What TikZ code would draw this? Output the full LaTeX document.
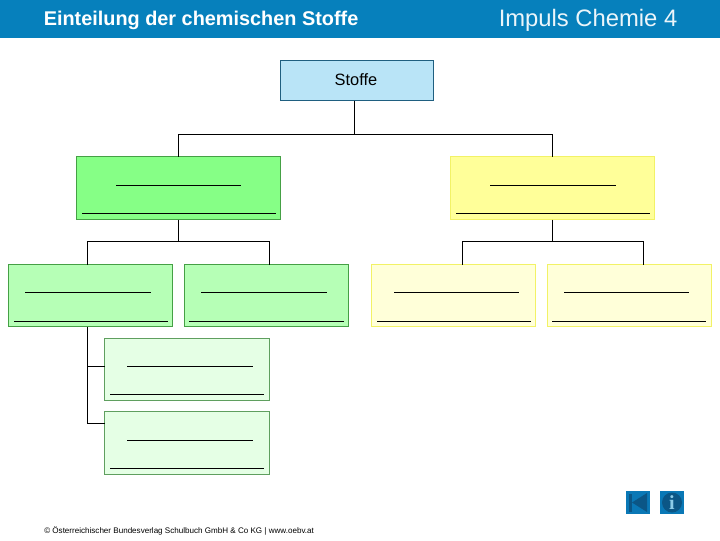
\documentclass[tikz,border=0pt]{standalone}
\usepackage{fontspec}
\setmainfont{Liberation Sans}
\newfontfamily\infofont{Liberation Serif}
\definecolor{banner}{HTML}{0680BC}
\definecolor{iconbg}{HTML}{0A78B6}
\definecolor{icondark}{HTML}{0B5686}
\definecolor{iconlight}{HTML}{8CCBE8}
\definecolor{rootfill}{HTML}{B9E4F7}
\definecolor{rootline}{HTML}{1F5F80}
\definecolor{greenline}{HTML}{45A045}
\definecolor{greenline2}{HTML}{5F9F5F}
\definecolor{green1}{HTML}{86FF86}
\definecolor{green2}{HTML}{B6FFB6}
\definecolor{green3}{HTML}{E5FFE5}
\definecolor{yellowline}{HTML}{F2F266}
\definecolor{yellow1}{HTML}{FFFF99}
\definecolor{yellow2}{HTML}{FFFFD9}
\tikzset{
  box/.style={draw,rectangle,outer sep=0pt,inner sep=0pt,line width=1pt},
  big/.style={box,minimum width=153pt,minimum height=47.25pt},
  small/.style={box,minimum width=123pt,minimum height=46.5pt},
  wide/.style={box,minimum width=123.75pt,minimum height=46.5pt},
  widetall/.style={box,minimum width=123.75pt,minimum height=47.25pt},
  root/.style={box,draw=rootline,fill=rootfill,minimum width=114.75pt,minimum height=30pt},
  ggreen/.style={draw=greenline,fill=green1},
  mgreen/.style={draw=greenline,fill=green2},
  lgreen/.style={draw=greenline2,fill=green3},
  gyellow/.style={draw=yellowline,fill=yellow1},
  lyellow/.style={draw=yellowline,fill=yellow2},
  conn/.style={draw=black,line width=0.9pt},
  blank/.style={draw=black,line width=0.9pt},
}
\begin{document}
\begin{tikzpicture}[x=0.75pt,y=-0.75pt]
\useasboundingbox (0,0) rectangle (720,540);
\fill[white] (0,0) rectangle (720,540);
\fill[banner] (0,0) rectangle (720,37.5);
\node[anchor=west,inner sep=0pt,text=white,font=\bfseries\fontsize{14.9pt}{18pt}\selectfont] (title) at (43.5,20.5) {Einteilung der chemischen Stoffe};
\node[anchor=west,inner sep=0pt,text=white!92!banner,font=\fontsize{17.85pt}{21pt}\selectfont] (brand) at (498.5,20) {Impuls Chemie 4};

\node[root] (stoffe) at (357,80.5) {};
\node[inner sep=0pt,font=\fontsize{12.3pt}{14pt}\selectfont] (stoffelabel) at (356,79.5) {Stoffe};
\node[big,ggreen] (g) at (178.5,188) {};
\node[big,gyellow] (y) at (552.5,188) {};
\node[small,mgreen] (g1) at (90.5,295.5) {};
\node[small,mgreen] (g2) at (266.5,295.5) {};
\node[small,lyellow] (y1) at (453.25,295.5) {};
\node[small,lyellow] (y2) at (629.25,295.5) {};
\node[wide,lgreen] (g3) at (187,369.5) {};
\node[widetall,lgreen] (g4) at (187,443) {};

\coordinate (j0) at (354.5,134.5);
\coordinate (jg) at (178.5,241.5);
\coordinate (jy) at (552.5,241.5);
\coordinate (b3) at (87.5,366.5);
\coordinate (b4) at (87.5,423.5);
\draw[conn] (stoffe.south -| j0) -- (j0);
\draw[conn] (g.north) |- (j0);
\draw[conn] (y.north) |- (j0);
\draw[conn] (g.south) -- (jg);
\draw[conn] (y.south) -- (jy);
\draw[conn] (g1.north -| b3) |- (jg);
\draw[conn] (g2.north -| 269.5,0) |- (jg);
\draw[conn] (y1.north -| 462.5,0) |- (jy);
\draw[conn] (y2.north -| 643.5,0) |- (jy);
\draw[conn] (g1.south -| b3) -- (b4) -- (g4.west |- b4);
\draw[conn] (b3) -- (g3.west |- b3);

\foreach \a/\b/\h in {116/241/185.5,82/276/213.5,490/616/185.5,456/650/213.5,
  25/151/292.5,14/168/321.5,201/327/292.5,189/344/321.5,
  394/519/292.5,377/531/321.5,564/689/292.5,552/706/321.5,
  127/253/366.5,110/264/394.5,127/253/440.5,110/264/468.5}
  \draw[blank] (\a,\h) -- (\b,\h);

\node[anchor=west,inner sep=0pt,font=\fontsize{6.05pt}{7pt}\selectfont] (foot) at (44,531) {© Österreichischer Bundesverlag Schulbuch GmbH \& Co KG | www.oebv.at};

\fill[iconbg] (626,491) rectangle (650,514);
\fill[icondark] (629,493.5) rectangle (632,511.5);
\fill[icondark] (632,502.5) -- (647,493) -- (647,512) -- cycle;
\fill[iconbg] (660,491) rectangle (684,514);
\fill[icondark] (672,502.5) circle[radius=10];
\node[inner sep=0pt,text=iconlight,font=\infofont\bfseries\fontsize{15pt}{15pt}\selectfont] (info) at (672,502.5) {i};
\end{tikzpicture}
\end{document}
